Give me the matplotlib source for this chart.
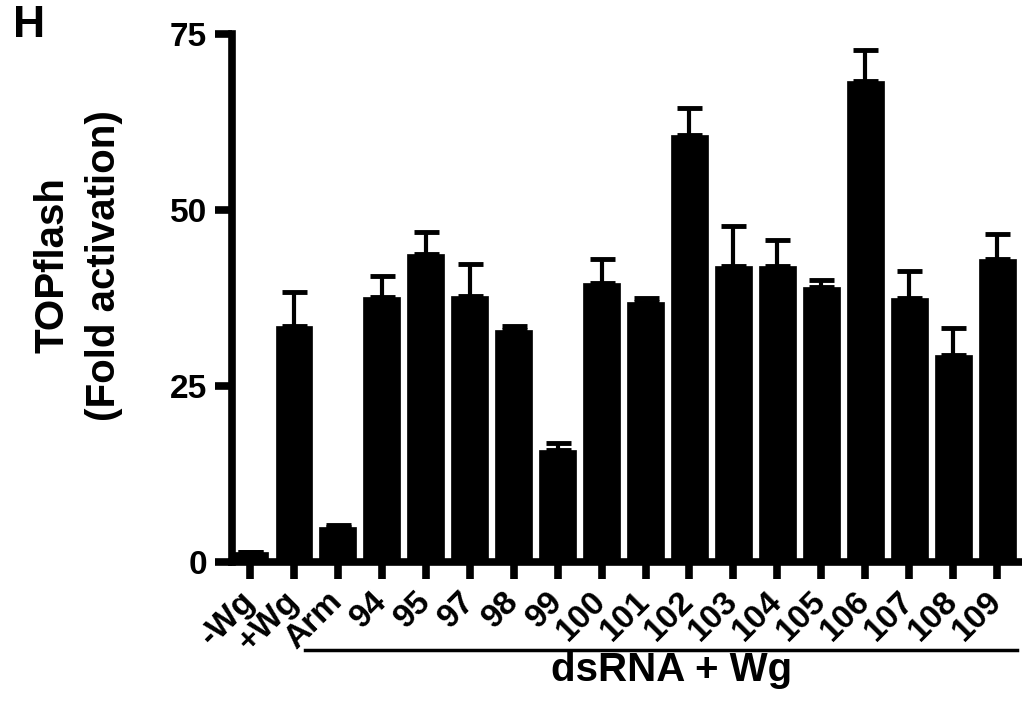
import numpy as np
import matplotlib
matplotlib.use('Agg')
import matplotlib.pyplot as plt
import matplotlib.transforms as mtransforms

plt.rcParams['font.family'] = ['Liberation Sans', 'DejaVu Sans']
plt.rcParams['font.weight'] = 'bold'

labels = ['-Wg', '+Wg', 'Arm', '94', '95', '97', '98', '99', '100',
          '101', '102', '103', '104', '105', '106', '107', '108', '109']
means = [1.4, 33.6, 5.0, 37.6, 43.7, 37.8, 32.9, 15.9, 39.7,
         36.9, 60.6, 42.1, 42.0, 39.1, 68.3, 37.5, 29.4, 43.0]
errs = [0.0, 4.8, 0.25, 3.1, 3.2, 4.6, 0.7, 1.0, 3.3,
        0.6, 3.9, 5.7, 3.7, 0.9, 4.4, 3.9, 3.9, 3.6]

fig = plt.figure(figsize=(10.22, 7.02), dpi=100)
ax = fig.add_axes([0.227, 0.1994, 0.771, 0.752])

x = np.arange(len(labels))
ax.bar(x, means, width=0.84, color='black', edgecolor='black', linewidth=0.5, zorder=2)
ax.errorbar(x, means, yerr=[np.zeros(len(errs)), errs], fmt='none', ecolor='black',
            elinewidth=3, capsize=9, capthick=3.5, zorder=1)

ax.set_xlim(-0.41, 17.52)
ax.set_ylim(0, 75)
ax.set_yticks([0, 25, 50, 75])
ax.set_xticks(x)
ax.set_xticklabels(labels, rotation=45, ha='right', va='center',
                   rotation_mode='anchor', fontsize=24, fontweight='bold')
ax.tick_params(axis='x', length=12, width=5.5, pad=13)
ax.tick_params(axis='y', length=12, width=5.5, pad=6, labelsize=24)
for t in ax.get_yticklabels():
    t.set_fontweight('bold')

for side in ['top', 'right']:
    ax.spines[side].set_visible(False)
for side in ['left', 'bottom']:
    ax.spines[side].set_linewidth(5.5)

ax.set_ylabel('TOPflash\n(Fold activation)', fontsize=29, fontweight='bold', linespacing=1.45)
ax.yaxis.label.set_va('center')
ax.yaxis.set_label_coords(-0.195, 0.5625)

# bracket under the dsRNA samples
trans = mtransforms.blended_transform_factory(ax.transData, ax.transAxes)
ax.plot([1.25, 17.46], [-0.167, -0.167], color='black', lw=2.5, transform=trans, clip_on=False)
ax.text(9.6, -0.205, 'dsRNA + Wg', transform=trans, ha='center', va='center',
        fontsize=29, fontweight='bold')

fig.text(0.013, 0.963, 'H', fontsize=32, fontweight='bold', ha='left', va='center')

fig.savefig('out.png', dpi=100)
